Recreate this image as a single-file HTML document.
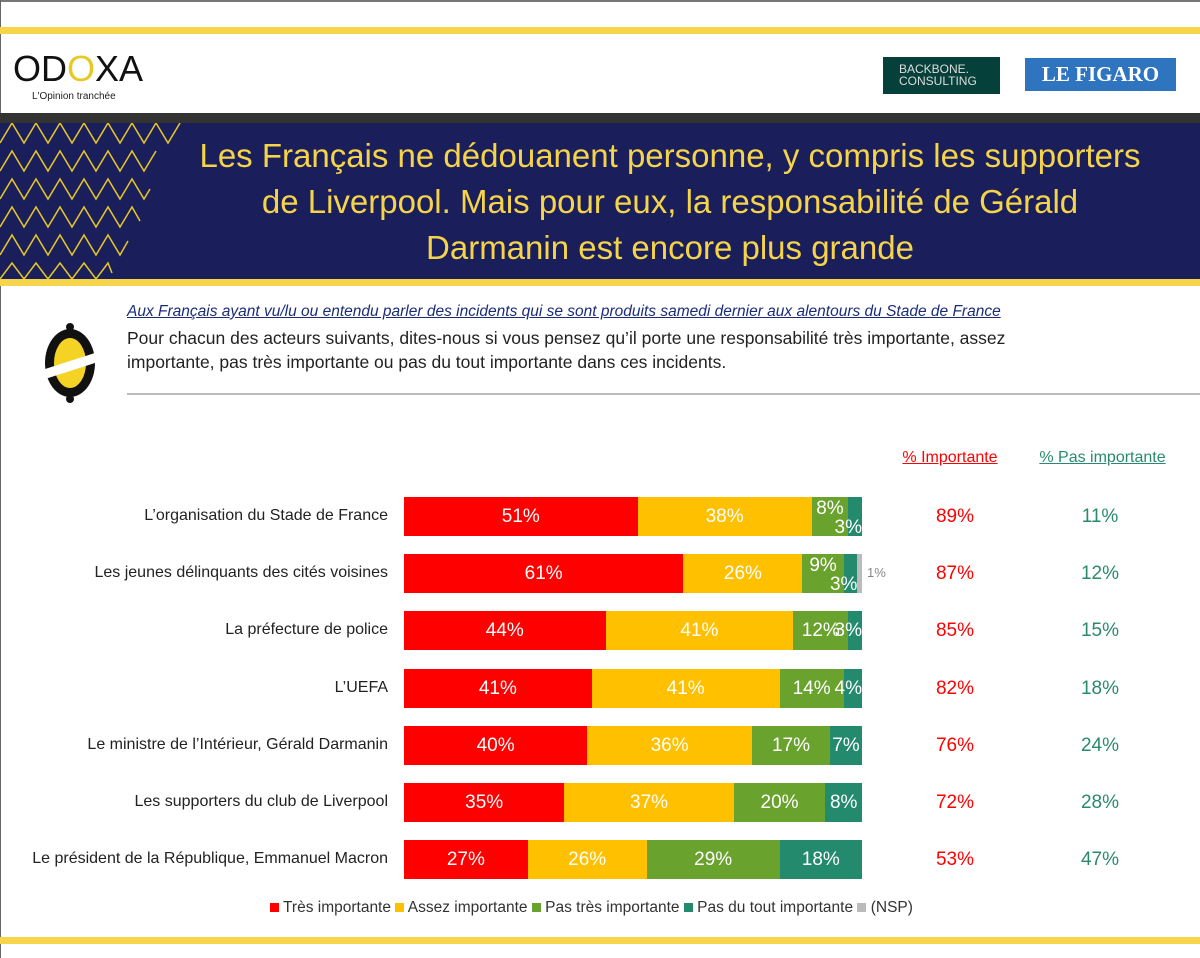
<!DOCTYPE html>
<html><head><meta charset="utf-8"><style>
*{margin:0;padding:0;box-sizing:border-box}
body{width:1200px;height:958px;position:relative;background:#fff;font-family:"Liberation Sans",sans-serif;overflow:hidden}
.a{position:absolute}
.seg{position:absolute;top:0;height:39px;color:#fff;font-size:19px;line-height:39px;display:flex;justify-content:center;white-space:nowrap}
.lab{position:absolute;font-size:16px;color:#222;white-space:nowrap}
.pi{position:absolute;width:120px;text-align:center;font-size:19px;color:#f00}
.pp{position:absolute;width:120px;text-align:center;font-size:19px;color:#2a8a6e}
</style></head><body>
<div class="a" style="left:0;top:0;width:1200px;height:2px;background:#777"></div>
<div class="a" style="left:0;top:0;width:1px;height:958px;background:#666"></div>
<div class="a" style="left:0;top:27px;width:1200px;height:7px;background:#f6d54a"></div>
<div class="a" style="left:13px;top:48px;font-size:36px;letter-spacing:0px;color:#111">OD<span style="color:#e8c824">O</span>XA</div>
<div class="a" style="left:32px;top:91px;font-size:10px;color:#222">L'Opinion tranchée</div>
<div class="a" style="left:883px;top:57px;width:117px;height:37px;background:#06403a;color:#ddd;font-size:12px;line-height:12px;padding:6px 0 0 16px">BACKBONE.<br>CONSULTING</div>
<div class="a" style="left:1025px;top:58px;width:151px;height:33px;background:#2f74bf;color:#fff;font-family:'Liberation Serif',serif;font-weight:bold;font-size:21px;line-height:33px;text-align:center">LE FIGARO</div>
<div class="a" style="left:0;top:113px;width:1200px;height:11px;background:#333"></div>
<div class="a" style="left:0;top:123px;width:1200px;height:156px;background:#1a1f5c"></div>
<svg class="a" style="left:0;top:123px" width="185" height="156">
<g stroke="#e8c824" stroke-width="1.5" fill="none">
<polyline points="0,20 12,0 24,20 36,0 48,20 60,0 72,20 84,0 96,20 108,0 120,20 132,0 144,20 156,0 168,20 180,0"/>
<polyline points="0,48 12,28 24,48 36,28 48,48 60,28 72,48 84,28 96,48 108,28 120,48 132,28 144,48 156,28"/>
<polyline points="0,76 12,56 24,76 36,56 48,76 60,56 72,76 84,56 96,76 108,56 120,76 132,56 144,76 150,66"/>
<polyline points="0,104 12,84 24,104 36,84 48,104 60,84 72,104 84,84 96,104 108,84 120,104 132,84 140,98"/>
<polyline points="0,132 12,112 24,132 36,112 48,132 60,112 72,132 84,112 96,132 108,112 120,132 128,118"/>
<polyline points="0,156 12,140 24,156 36,140 48,156 60,140 72,156 84,140 96,156 108,140 112,150"/>
</g></svg>
<div class="a" style="left:150px;top:133px;width:1040px;text-align:center;color:#f5d44a;font-size:33px;line-height:46px">Les Français ne dédouanent personne, y compris les supporters<br>de Liverpool. Mais pour eux, la responsabilité de Gérald<br>Darmanin est encore plus grande</div>
<div class="a" style="left:0;top:279px;width:1200px;height:7px;background:#f6d54a"></div>
<svg class="a" style="left:40px;top:322px" width="60" height="82"><ellipse cx="30" cy="41" rx="25" ry="34" fill="#111"/><ellipse cx="30" cy="41" rx="16" ry="25" fill="#f5d324"/><circle cx="30" cy="5" r="4" fill="#111"/><circle cx="30" cy="77" r="4" fill="#111"/><polygon points="2,48 58,30 58,40 2,58" fill="#fff"/></svg>
<div class="a" style="left:127px;top:303px;font-size:15.5px;font-style:italic;color:#1a2c7a;text-decoration:underline;white-space:nowrap">Aux Français ayant vu/lu ou entendu parler des incidents qui se sont produits samedi dernier aux alentours du Stade de France</div>
<div class="a" style="left:127px;top:326px;font-size:17.5px;color:#222;line-height:24px;width:1000px">Pour chacun des acteurs suivants, dites-nous si vous pensez qu’il porte une responsabilité très importante, assez<br>importante, pas très importante ou pas du tout importante dans ces incidents.</div>
<div class="a" style="left:127px;top:393px;width:1073px;height:2px;background:#bbb"></div>
<div class="a" style="left:890px;top:449px;width:120px;text-align:center;font-size:16px;color:#f00;text-decoration:underline">% Importante</div>
<div class="a" style="left:1025px;top:449px;width:155px;text-align:center;font-size:16px;color:#2a8a6e;text-decoration:underline">% Pas importante</div>
<div id="rows"></div>
<div class="a" style="left:270px;top:899px;font-size:15.5px;color:#333;white-space:nowrap">
<span style="display:inline-block;width:9px;height:9px;background:#f00"></span> Très importante <span style="display:inline-block;width:9px;height:9px;background:#ffc000"></span> Assez importante <span style="display:inline-block;width:9px;height:9px;background:#6aa22e"></span> Pas très importante <span style="display:inline-block;width:9px;height:9px;background:#238a6e"></span> Pas du tout importante <span style="display:inline-block;width:9px;height:9px;background:#bbb"></span> (NSP)</div>
<div class="a" style="left:0;top:937px;width:1200px;height:7px;background:#f6d54a"></div>
<script>
var d=[["L’organisation du Stade de France",[51,38,8,3],89,11],
["Les jeunes délinquants des cités voisines",[61,26,9,3,1],87,12],
["La préfecture de police",[44,41,12,3],85,15],
["L’UEFA",[41,41,14,4],82,18],
["Le ministre de l’Intérieur, Gérald Darmanin",[40,36,17,7],76,24],
["Les supporters du club de Liverpool",[35,37,20,8],72,28],
["Le président de la République, Emmanuel Macron",[27,26,29,18],53,47]];
var c=["#f00","#ffc000","#6aa22e","#238a6e","#bbb"],h="";
d.forEach(function(r,i){var y=497+i*57.2,x=404;
h+='<div class="lab" style="top:'+(y+10)+'px;right:812px">'+r[0]+'</div>';
h+='<div class="a" style="left:404px;top:'+y+'px;width:460px;height:39px">';
r[1].forEach(function(v,j){var w=v*4.58;var t=j<4?v+'%':'';var st='';var inner=t;
if(i<2&&j==2)st='line-height:24px;';
if(j==3&&w<25){inner='<span style="position:absolute;right:0;'+(i<2?'top:11px':'top:0')+'">'+t+'</span>';}
h+='<div class="seg" style="left:'+(x-404)+'px;width:'+w+'px;background:'+c[j]+';'+st+'">'+inner+'</div>';x+=w;});
h+='</div>';
if(r[1].length>4)h+='<div class="a" style="left:867px;top:'+(y+11)+'px;font-size:13px;color:#888">1%</div>';
h+='<div class="pi" style="left:895px;top:'+(y+9)+'px">'+r[2]+'%</div><div class="pp" style="left:1040px;top:'+(y+9)+'px">'+r[3]+'%</div>';});
document.getElementById("rows").innerHTML=h;
</script>
</body></html>
